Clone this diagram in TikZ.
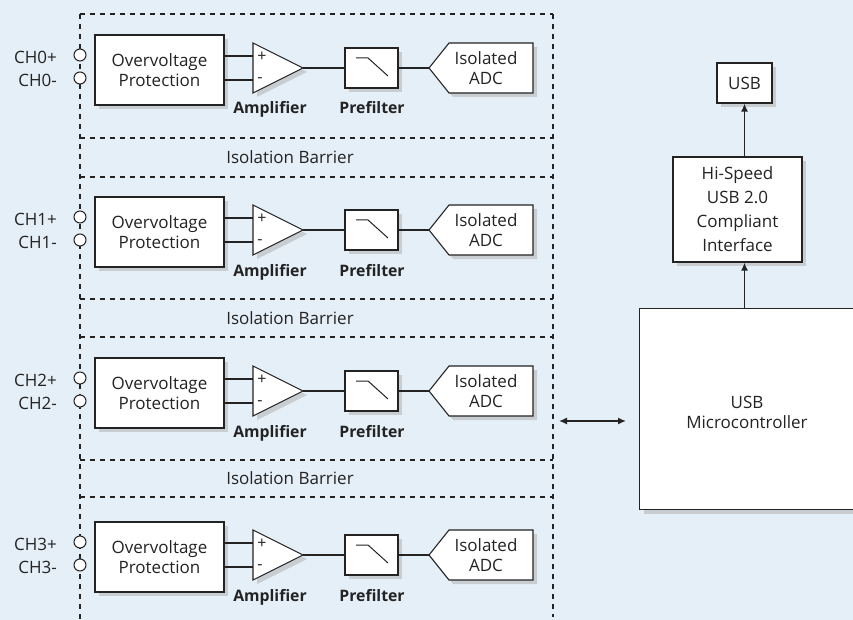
\documentclass[tikz,border=0pt]{standalone}
\usepackage{fontspec}
\setmainfont{Open Sans}
\usetikzlibrary{arrows.meta,shadows}
\definecolor{bg}{RGB}{229,239,248}
\definecolor{shd}{RGB}{200,205,210}
\definecolor{ink}{RGB}{35,35,35}
\newcommand\txt{\fontsize{17}{20}\selectfont}
\newcommand\btxt{\fontsize{15.8}{20}\selectfont\bfseries}
\tikzset{
 shp/.style={draw=ink, line width=1.1pt, fill=white,
   general shadow={fill=shd, shadow xshift=4pt, shadow yshift=-4pt}},
 blk/.style={shp, inner sep=0pt, align=center, text=ink, font=\txt},
 wire/.style={draw=ink, line width=1.8pt},
 barrier/.style={draw=ink, line width=1.6pt, dash pattern=on 5pt off 5pt},
 lbl/.style={text=ink, font=\btxt, inner sep=0pt, anchor=base},
 plain/.style={text=ink, font=\txt, inner sep=0pt, align=center},
 sign/.style={text=ink, font=\fontsize{16}{16}\selectfont, inner sep=0pt},
 term/.style={circle, draw=ink, fill=white, line width=1pt, minimum size=12pt, inner sep=0pt},
 arr/.style={draw=ink, line width=1.8pt, -{Latex[length=8pt,width=7pt]}},
 darr/.style={draw=ink, line width=1.5pt, {Latex[length=8pt,width=7pt]}-{Latex[length=8pt,width=7pt]}},
}
\begin{document}
\begin{tikzpicture}[x=1pt,y=-1pt]
\fill[bg] (0,0) rectangle (853,620);
\useasboundingbox (0,0) rectangle (853,620);
\clip (0,0) rectangle (853,620);
% isolation frame
\draw[barrier] (80,14) -- (80,620);
\draw[barrier] (553,14) -- (553,617);
\foreach \yy in {14,138,177,299,337,460,497}
  \draw[barrier] (80,\yy) -- (553,\yy);
\node[plain] (ib1) at (290,157.5) {Isolation Barrier};
\node[plain] (ib2) at (290,318) {Isolation Barrier};
\node[plain] (ib3) at (290,478.5) {Isolation Barrier};
% channels
\foreach \i/\cy in {0/68,1/230,2/391,3/555}{
  \node[blk, minimum width=129pt, minimum height=70pt] (ov\i) at (159.5,\cy+2) {Overvoltage\\Protection};
  \node[term] (tp\i) at (80,\cy-13) {};
  \node[term] (tn\i) at (80,\cy+10) {};
  \node[plain, anchor=east] (lp\i) at (57,\cy-11) {CH\i+};
  \node[plain, anchor=east] (ln\i) at (57,\cy+12) {CH\i-};
  % amplifier
  \draw[shp] (253,\cy-25) -- (303,\cy) -- (253,\cy+25) -- cycle;
  \coordinate (ap\i) at (253,\cy-12);
  \coordinate (an\i) at (253,\cy+12);
  \coordinate (ao\i) at (303,\cy);
  \node[sign] (sp\i) at (262,\cy-11) {+};
  \node[sign] (sn\i) at (260,\cy+12) {-};
  \draw[wire] (ap\i -| ov\i.east) -- (ap\i);
  \draw[wire] (an\i -| ov\i.east) -- (an\i);
  \node[lbl] (al\i) at (270,\cy+46) {Amplifier};
  % prefilter
  \node[blk, minimum width=53pt, minimum height=40pt] (pf\i) at (371.5,\cy) {};
  \draw[ink, line width=1pt] (356,\cy-10) -- (368,\cy-10) -- (388,\cy+8);
  \node[lbl] (pl\i) at (372,\cy+46) {Prefilter};
  % ADC
  \draw[shp] (429,\cy) -- (449,\cy-25) -- (533,\cy-25) -- (533,\cy+25) -- (449,\cy+25) -- cycle;
  \coordinate (adc\i) at (429,\cy);
  \node[plain] (adt\i) at (486,\cy) {Isolated\\ADC};
  \draw[wire] (ao\i) -- (pf\i.west);
  \draw[wire] (pf\i.east) -- (adc\i);
}
% right side
\node[blk, minimum width=55pt, minimum height=40pt] (usb) at (744.5,83) {USB};
\node[blk, minimum width=129pt, minimum height=105pt, font=\fontsize{17}{24}\selectfont] (hs) at (737.5,209.5) {Hi-Speed\\USB 2.0\\Compliant\\Interface};
\node[shp, minimum width=220pt, minimum height=201pt, anchor=north west, inner sep=0pt] (mc) at (639,308) {};
\node[plain] (mct) at (747,412) {USB\\Microcontroller};
\draw[arr] (mc.north -| usb.south) -- (hs.south -| usb.south);
\draw[arr] (hs.north -| usb.south) -- (usb.south);
\coordinate (bar) at (559,421);
\draw[darr, shorten >=13pt] (bar) -- (mc.west |- bar);
\end{tikzpicture}
\end{document}
